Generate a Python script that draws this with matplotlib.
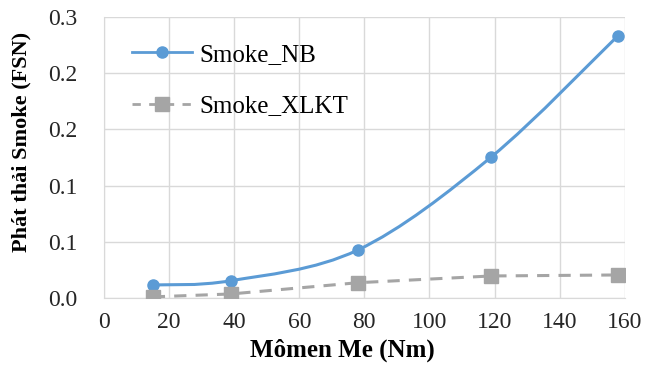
import matplotlib
matplotlib.use('Agg')
import matplotlib.pyplot as plt
from matplotlib.path import Path
from matplotlib.patches import PathPatch
from matplotlib.lines import Line2D

# ----------------------------- du lieu -----------------------------
momen = [15, 39, 78, 119, 158]
smoke_nb = [0.0116, 0.0154, 0.0427, 0.1254, 0.2334]
smoke_xlkt = [0.0010, 0.0036, 0.0136, 0.0196, 0.0205]

y_ticks = [0.0, 0.05, 0.10, 0.15, 0.20, 0.25]
y_labels = ['0.0', '0.1', '0.1', '0.2', '0.2', '0.3']
x_ticks = [0, 20, 40, 60, 80, 100, 120, 140, 160]

mau_nb = '#5B9BD5'
mau_xlkt = '#A5A5A5'

plt.rcParams['font.family'] = ['Liberation Serif', 'DejaVu Serif']


def duong_cong(ax, xs, ys, **kw):
    # kieu "smooth line" cua Excel: Catmull-Rom -> Bezier, ve trong toa do du lieu
    verts = [(xs[0], ys[0])]
    codes = [Path.MOVETO]
    n = len(xs)
    for i in range(n - 1):
        x0, y0 = (xs[i - 1], ys[i - 1]) if i > 0 else (xs[i], ys[i])
        x1, y1 = xs[i], ys[i]
        x2, y2 = xs[i + 1], ys[i + 1]
        x3, y3 = (xs[i + 2], ys[i + 2]) if i + 2 < n else (x2, y2)
        c1 = (x1 + (x2 - x0) / 6, y1 + (y2 - y0) / 6)
        c2 = (x2 - (x3 - x1) / 6, y2 - (y3 - y1) / 6)
        verts += [c1, c2, (x2, y2)]
        codes += [Path.CURVE4] * 3
    ax.add_patch(PathPatch(Path(verts, codes), fill=False, **kw))


fig = plt.figure(figsize=(6.46, 3.67), dpi=100)
ax = fig.add_axes([0.161, 0.188, 0.806, 0.766])

duong_cong(ax, momen, smoke_nb, edgecolor=mau_nb, lw=2.2, zorder=3)
ax.plot(momen, smoke_nb, 'o', color=mau_nb, ms=8, zorder=4)

ax.plot(momen, smoke_xlkt, color=mau_xlkt, lw=2.2, ls=(0, (4, 3)), zorder=2)
ax.plot(momen, smoke_xlkt, 's', color=mau_xlkt, ms=10, zorder=4)

ax.set_xlim(0, 160)
ax.set_ylim(0, 0.25)
ax.set_xticks(x_ticks)
ax.set_yticks(y_ticks)
ax.set_yticklabels(y_labels)
ax.tick_params(labelsize=17, length=0, colors='#262626')
ax.tick_params(axis='y', pad=19)
ax.tick_params(axis='x', pad=10)
ax.grid(True, color='#D9D9D9', lw=1)
ax.set_axisbelow(True)
for s in ['top', 'right']:
    ax.spines[s].set_visible(False)
for s in ['left', 'bottom']:
    ax.spines[s].set_color('#D9D9D9')

ax.set_xlabel('Mômen Me (Nm)', fontsize=18, fontweight='bold')
ax.set_ylabel('Phát thải Smoke (FSN)', fontsize=16, fontweight='bold')
ax.xaxis.set_label_coords(0.457, -0.145)
ax.yaxis.set_label_coords(-0.14, 0.555)

h1 = Line2D([], [], color=mau_nb, lw=2, marker='o', ms=8)
h2 = Line2D([], [], color=mau_xlkt, lw=2, ls=(0, (3, 3)), marker='s', ms=10)
ax.legend([h1, h2], ['Smoke_NB', 'Smoke_XLKT'], loc='upper left', frameon=False,
          fontsize=18, bbox_to_anchor=(0.01, 0.985), labelspacing=1.15,
          handlelength=2.4, handletextpad=0.3)

fig.savefig('out.png', dpi=100)
